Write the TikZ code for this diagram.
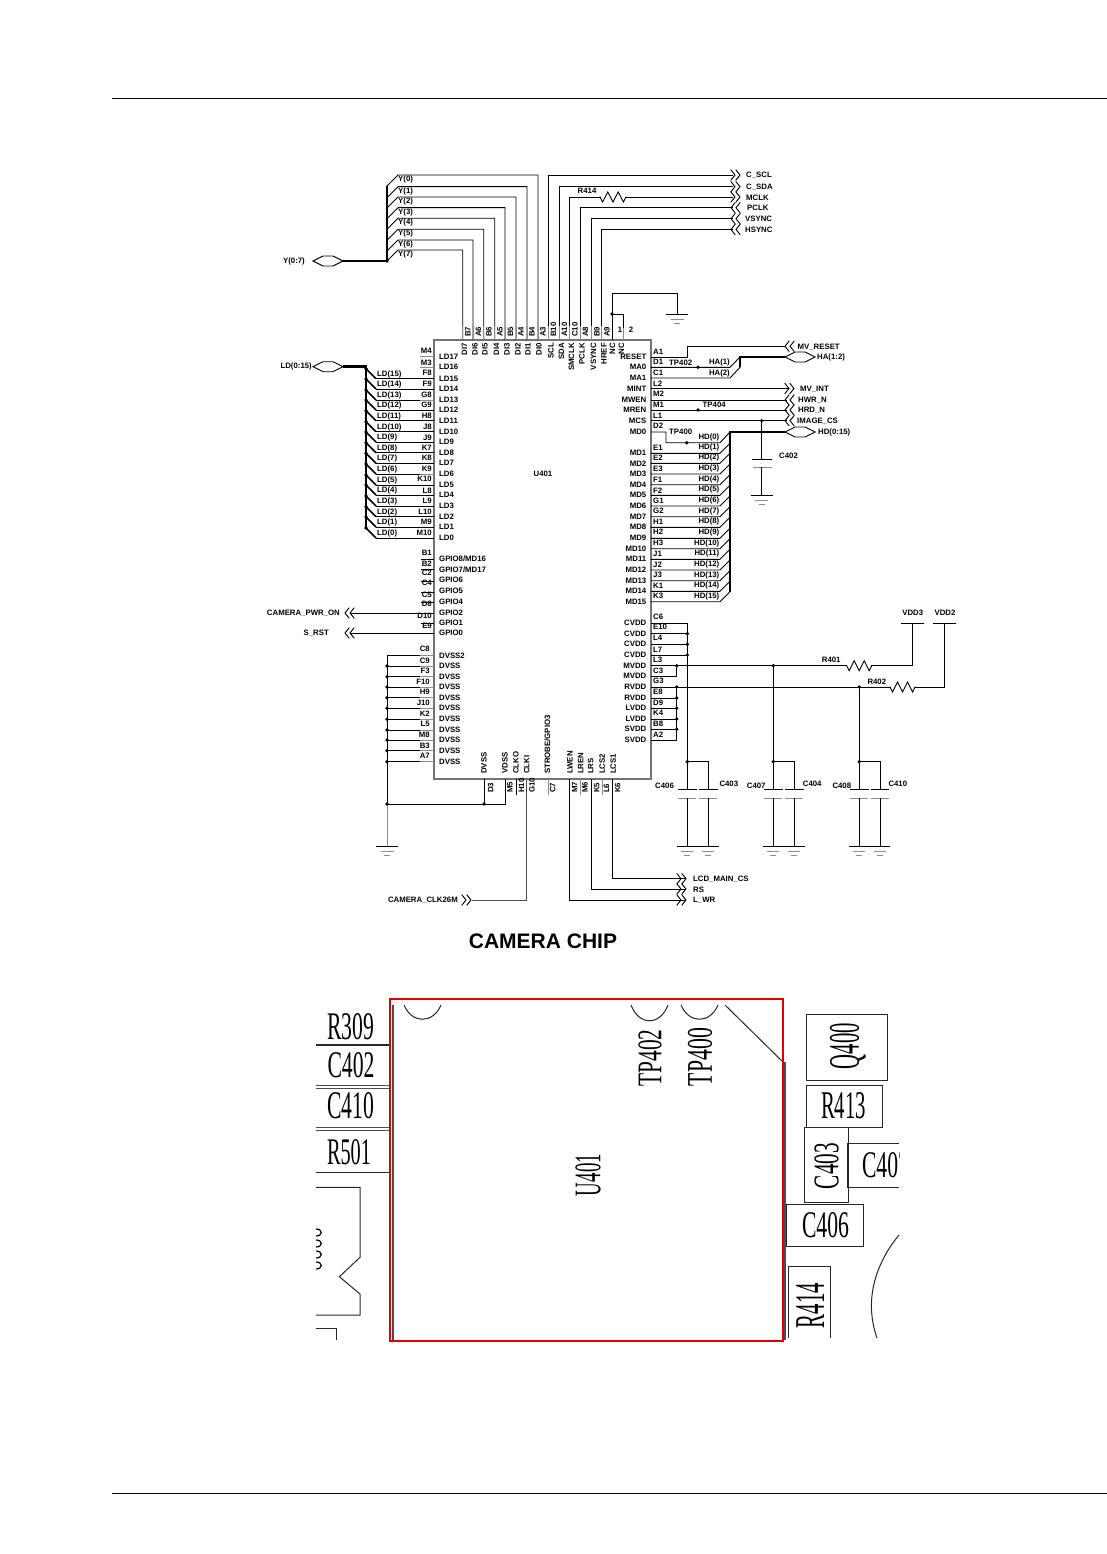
\documentclass[tikz,border=0pt]{standalone}
\usepackage{fontspec}
\usepackage{graphicx}
\setmainfont{Liberation Sans}
\newfontfamily\pcbfont{Liberation Serif}
\newcommand\sigf{\fontsize{7.8}{8.5}\selectfont\bfseries}
\newcommand\chevR[2]{\draw[wire] (#1,#2-5)--(#1+4,#2)--(#1,#2+5) (#1+5,#2-5)--(#1+9,#2)--(#1+5,#2+5);}
\newcommand\chevL[2]{\draw[wire] (#1+4,#2-5)--(#1,#2)--(#1+4,#2+5) (#1+9,#2-5)--(#1+5,#2)--(#1+9,#2+5);}
\newcommand\hexa[2]{\draw[wire] (#1,#2)--(#1+10,#2-5)--(#1+20,#2-5)--(#1+30,#2)--(#1+20,#2+5)--(#1+10,#2+5)--cycle;}
\newcommand\resi[3]{\pgfmathsetmacro\rw{(#2-#1)/10}\draw[wire] (#1,#3)--({#1+\rw},#3+5)--({#1+3*\rw},#3-5)--({#1+5*\rw},#3+5)--({#1+7*\rw},#3-5)--({#1+9*\rw},#3+5)--(#2,#3);}
\newcommand\gnd[3]{\draw[wire] (#1-#3,#2)--(#1+#3,#2);\draw[stubg] (#1-#3+4,#2+5)--(#1+#3-4,#2+5);\draw[stubg] (#1-3,#2+9)--(#1+3,#2+9);}
\newcommand\capa[5]{\draw[wire] (#1,#2)--(#1,#3) (#1-9,#3)--(#1+9,#3);\draw[stubg] (#1-9,#3+9)--(#1+9,#3+9);\draw[wire] (#1,#3+9)--(#1,#4);\gnd{#1}{#4}{#5}}
\newcommand\jdot[2]{\fill (#1,#2) circle[radius=1.9];}
\newcommand\pcbt[7]{\node[inner sep=0,rotate=#6] (#1) at (#2,#3) {\resizebox{#4pt}{#5pt}{\pcbfont #7}};}
\tikzset{
  wire/.style={line width=0.9pt,black,line cap=rect},
  stubg/.style={line width=1pt,black!45},
  bus/.style={line width=2.6pt,black},
  sig/.style={font=\sigf,inner sep=0pt,text=black},
  lab/.style={sig,anchor=west},
  rlab/.style={sig,anchor=east},
  upn/.style={sig,anchor=west,rotate=90},
  dnn/.style={sig,anchor=east,rotate=90},
  pcbline/.style={line width=1pt,black!85},
}
\begin{document}
\begin{tikzpicture}[x=1pt,y=-1pt]
\useasboundingbox (0,0) rectangle (1107,1554);
% page rules
\draw[line width=1pt] (112,99)--(1107,99);
\draw[line width=1pt] (112,1493)--(1107,1493);
% chip
\draw[line width=1.3pt,black!55] (434,340) rectangle (651,779);
\node[sig] (u401) at (543,474) {U401};
% top data pins -> Y bus
\foreach \x/\y/\k in {538/175/0,527/186.7/1,516/197/2,505/207.7/3,494.7/218.3/4,483.7/229.3/5,473/240/6,462.7/250/7}{
  \draw[wire] (\x,340)--(\x,\y)--(398,\y)--(387,\y+11);
  \draw[stubg] (\x,326)--(\x,340);
  \node[lab] (yl\k) at (398,\y+4.5) {Y(\k)};
}
\draw[bus] (387,186)--(387,261)--(343,261);
\jdot{387}{261}
\hexa{313}{261}
\node[rlab] (ybus) at (305,261) {Y(0:7)};
% top control pins
\foreach \x/\y/\n in {548/175/C\_SCL,559/186.7/C\_SDA,580/207.7/PCLK,591.7/218.7/VSYNC,601.7/229.5/HSYNC}{
  \draw[wire] (\x,340)--(\x,\y)--(733,\y);
  \draw[stubg] (\x,326)--(\x,340);
}
\draw[wire] (569.7,340)--(569.7,197)--(592,197);
\draw[stubg] (569.7,326)--(569.7,340);
\draw[wire] (633,197)--(733,197);
\draw[wire] (592,197)--(600,197);
\resi{600}{626}{197}
\draw[wire] (626,197)--(633,197);
\node[lab] (r414) at (577.5,191) {R414};
\chevR{731}{175}\chevR{731}{186.7}\chevR{731}{197}
\chevL{731}{207.7}\chevL{731}{218.7}\chevL{731}{229.5}
\node[lab] (o1) at (746,175.5) {C\_SCL};
\node[lab] (o2) at (746,187) {C\_SDA};
\node[lab] (o3) at (746,197.5) {MCLK};
\node[lab] (o4) at (747,208) {PCLK};
\node[lab] (o5) at (745,218.5) {VSYNC};
\node[lab] (o6) at (745,229.5) {HSYNC};
% NC + ground
\draw[wire] (612,340)--(612,293)--(677,293)--(677,314);
\draw[wire] (612,314)--(623,314)--(623,328);
\draw[stubg] (623,328)--(623,340);
\jdot{612}{314}
\gnd{677}{314}{10.5}
\node[sig] (n1) at (620,330) {1};
\node[sig] (n2) at (631,330) {2};
% top pin labels
\foreach \x/\t [count=\i] in {468/B7,478.5/A6,489/B6,500/A5,510.5/B5,521/A4,532/B4,543/A3,553.5/B10,564.5/A10,575/C10,585.5/A8,597/B9,607/A9}{
  \node[upn] (tp\i) at (\x,337) {\t};}
\foreach \x/\t [count=\i] in {464.5/DI7,475/DI6,485/DI5,496.5/DI4,507/DI3,518/DI2,528/DI1,539/DI0,551/SCL,561.5/SDA,571.5/SMCLK,582/PCLK,593.5/VSYNC,604/HREF,612.5/NC,621.5/NC}{
  \node[dnn] (ti\i) at (\x,343) {\t};}
% left inner names
\foreach \y/\t [count=\i] in {357.3/LD17,367.3/LD16,379/LD15,389.3/LD14,400/LD13,410/LD12,420.7/LD11,431.7/LD10,442/LD9,452.7/LD8,463.3/LD7,474/LD6,485/LD5,495/LD4,506/LD3,516.7/LD2,526.7/LD1,538.3/LD0,559/{GPIO8/MD16},570/{GPIO7/MD17},580/GPIO6,591/GPIO5,601.7/GPIO4,613.3/GPIO2,623.3/GPIO1,633.3/GPIO0,655.7/DVSS2,666/DVSS,676.7/DVSS,687/DVSS,697.7/DVSS,708.3/DVSS,719.3/DVSS,730/DVSS,740/DVSS,750.7/DVSS,761.7/DVSS}{
  \node[lab] (li\i) at (439,\y) {\t};}
\draw[stubg] (420,356.7)--(434,356.7) (420,367)--(434,367);
% LD bus
\foreach \y/\k in {378.7/15,389/14,400/13,410/12,420.7/11,431.7/10,442/9,452.7/8,463.3/7,474/6,485/5,495/4,506/3,516.7/2,527/1,538/0}{
  \draw[line width=1.5pt] (366,\y-10)--(376,\y);
  \draw[wire] (376,\y)--(434,\y);
  \jdot{366}{\y-10}
  \node[lab] (ldl\k) at (377,\y-4.5) {LD(\k)};
}
\draw[bus] (343,366.7)--(366,366.7)--(366,528);
\hexa{313}{366.7}
\node[rlab] (ldbus) at (312,366.7) {LD(0:15)};
\draw[stubg] (420,400)--(434,400) (420,474)--(434,474);
\foreach \y/\t [count=\i] in {351/M4,362.5/M3,373/F8,384/F9,395/G8,405/G9,416/H8,426.7/J8,437.7/J9,448/K7,458/K8,469/K9,479/K10,490.7/L8,501/L9,511.7/L10,522/M9,533/M10,553/B1,564/B2,573/C2,583/C4,595/C5,604/D8,615.5/D10,626/E9}{
  \node[rlab] (lp\i) at (432,\y) {\t};}
\foreach \y/\t [count=\i] in {649.3/C8,660.7/C9,670.7/F3,681.7/F10,692/H9,703/J10,714/K2,724/L5,735/M8,745.7/B3,756/A7}{
  \node[rlab] (lq\i) at (430,\y) {\t};}
% GPIO stubs
\draw[wire] (421,559)--(434,559) (421,569)--(434,569) (421,581)--(434,581) (421,592)--(434,592) (421,602)--(434,602) (421,623.3)--(434,623.3);
\draw[wire] (350,613)--(434,613) (350,633)--(434,633);
\chevL{345}{613}\chevL{345}{633}
\node[rlab] (cam) at (340,613) {CAMERA\_PWR\_ON};
\node[rlab] (srst) at (329,633) {S\_RST};
% DVSS
\foreach \y in {666,676.7,687,697.7,708.3,719.3,730,740,750.7,761.7}{
  \draw[wire] (387,\y)--(434,\y);\draw[stubg] (420,\y)--(434,\y);\jdot{387}{\y}}
\draw[wire] (434,655)--(387,655)--(387,805);
\draw[stubg] (420,655)--(434,655);
\draw[stubg] (387,805)--(387,846);
\draw[wire] (387,804)--(505,804)--(505,779);
\draw[wire] (484,804)--(484,779);
\jdot{387}{804}\jdot{484}{804}
\gnd{387}{846.5}{10.5}
% bottom names
\foreach \x/\t [count=\i] in {484/DVSS,505/VDSS,516/CLKO,526.7/CLKI,547.3/{STROBE/GPIO3},570/LWEN,580.7/LREN,590.7/LRS,602.3/LCS2,613.3/LCS1}{
  \node[upn] (bi\i) at (\x,774) {\t};}
\foreach \x/\t [count=\i] in {490.7/D3,510/M5,521.5/H10,532/G10,552.7/C7,574.7/M7,585/M6,596.7/K5,606.5/L6,617.7/K6}{
  \node[upn] (bp\i) at (\x,793) {\t};}
% bottom stubs
\draw[wire] (516.5,779)--(516.5,795);
\draw[stubg] (548,779)--(548,795) (580,779)--(580,795) (602,779)--(602,795);
\draw[wire,black!70] (526,779)--(526,900)--(472,900);
\chevR{462}{900}
\node[rlab] (clk) at (458,900.5) {CAMERA\_CLK26M};
\draw[wire] (569.3,779)--(569.3,900)--(685,900);
\draw[wire] (591,779)--(591,889)--(685,889);
\draw[wire] (612.3,779)--(612.3,878.7)--(685,878.7);
\chevR{677}{878.7}\chevR{677}{889}\chevR{677}{900}
\node[lab] (lcd) at (693,879.5) {LCD\_MAIN\_CS};
\node[lab] (rs) at (693,889.5) {RS};
\node[lab] (lwr) at (693,900.5) {L\_WR};
% right inner names
\foreach \y/\t [count=\i] in {357/RESET,367.3/MA0,378/MA1,389/MINT,400/MWEN,410.3/MREN,421/MCS,432/MD0,453.3/MD1,463.3/MD2,474/MD3,484.7/MD4,495.3/MD5,506/MD6,516.7/MD7,527.3/MD8,538.3/MD9,548.7/MD10,559.3/MD11,570/MD12,580.7/MD13,591.3/MD14,602/MD15,623.3/CVDD,633.7/CVDD,644.3/CVDD,655/CVDD,665.7/MVDD,676.3/MVDD,686.7/RVDD,698/RVDD,708.3/LVDD,719/LVDD,729.3/SVDD,740/SVDD}{
  \node[rlab] (ri\i) at (646.5,\y) {\t};}
% right pin labels
\foreach \y/\t [count=\i] in {352/A1,362/D1,372.7/C1,384/L2,394/M2,405/M1,415.7/L1,426/D2,448/E1,458/E2,469/E3,480/F1,490.7/F2,501/G1,511/G2,521.7/H1,532/H2,543/H3,554/J1,565/J2,575/J3,585.7/K1,595.7/K3,617.3/C6,626.7/E10,638.3/L4,650/L7,660/L3,670.7/C3,681/G3,691.7/E8,702.7/D9,713/K4,724/B8,734.7/A2}{
  \node[lab] (rp\i) at (653,\y) {\t};}
% right upper wires
\draw[wire] (651,357)--(687,357)--(687,346.3)--(785,346.3);
\chevL{785}{346.3}
\draw[wire] (651,367.3)--(730,367.3)--(740,357);
\draw[wire] (651,378)--(730,378)--(740,367.3);
\draw[bus] (740,367.3)--(740,357)--(785,357);
\hexa{785}{357}
\jdot{698}{367.3}
\node[lab] (tp402) at (669,362.5) {TP402};
\node[rlab] (ha1) at (730,362) {HA(1)};
\node[rlab] (ha2) at (730,373) {HA(2)};
\node[lab] (mvr) at (797.5,347) {MV\_RESET};
\node[lab] (habus) at (817,357.5) {HA(1:2)};
\draw[wire] (651,388.5)--(788,388.5);
\chevR{785}{388.5}
\node[lab] (mvi) at (800,389) {MV\_INT};
\draw[wire] (651,400)--(787,400) (651,410)--(787,410) (651,420.7)--(787,420.7);
\chevL{785}{400}\chevL{785}{410}\chevL{785}{420.7}
\jdot{698}{410}
\node[lab] (tp404) at (702.5,405) {TP404};
\node[lab] (hwr) at (798,400) {HWR\_N};
\node[lab] (hrd) at (798,410.5) {HRD\_N};
\node[lab] (ics) at (797,421) {IMAGE\_CS};
% C402
\jdot{761.7}{420.7}
\draw[wire] (761.7,420.7)--(761.7,459) (752.7,459)--(771.7,459);
\draw[stubg] (752.7,467)--(771.7,467);
\draw[wire] (761.7,467)--(761.7,495);
\gnd{761.7}{495}{10.5}
\node[lab] (c402) at (779,456) {C402};
% HD bus
\draw[wire] (651,432)--(666,432)--(666,442.7)--(720,442.7)--(730,432);
\jdot{686.7}{442.7}
\node[lab] (tp400) at (669,431.7) {TP400};
\node[rlab] (hd0) at (719.5,437.5) {HD(0)};
\foreach \y/\k in {453.3/1,463.3/2,474/3,484.7/4,495.3/5,506/6,516.7/7,527.3/8,538.3/9,548.7/10,559.3/11,570/12,580.7/13,591.3/14,601.7/15}{
  \draw[wire] (651,\y)--(720,\y)--(730,\y-10);
  \node[rlab] (hdl\k) at (719.5,\y-5.5) {HD(\k)};
}
\draw[bus] (730,592)--(730,432)--(785,432);
\hexa{785}{432}
\node[lab] (hdbus) at (818,432.5) {HD(0:15)};
% power
\draw[wire] (651,623.3)--(687.3,623.3)--(687.3,761.7)--(708.3,761.7);
\foreach \y in {633.7,644.3,655}{\draw[wire] (651,\y)--(687.3,\y);\jdot{687.3}{\y}}
\draw[wire] (651,676.3)--(676.7,676.3)--(676.7,665.7);
\draw[wire] (651,665.7)--(838.3,665.7);
\draw[wire] (651,687)--(888,687);
\draw[wire] (676.7,687)--(676.7,740);
\foreach \y in {698,708.3,719,729.3,740}{\draw[wire] (651,\y)--(676.7,\y);}
\foreach \y in {665.7,687,698,708.3,719,729.3}{\jdot{676.7}{\y}}
\resi{846.7}{871.7}{665.7}
\draw[wire] (838.3,665.7)--(846.7,665.7) (871.7,665.7)--(912.7,665.7)--(912.7,623);
\resi{890}{915}{687}
\draw[wire] (888,687)--(890,687) (915,687)--(944.3,687)--(944.3,623);
\draw[wire] (901.7,623)--(923.3,623) (933.3,623)--(955.7,623);
\node[sig] (vdd3) at (912.7,613) {VDD3};
\node[sig] (vdd2) at (945,613) {VDD2};
\node[lab] (r401) at (821.7,660) {R401};
\node[lab] (r402) at (867.3,682.3) {R402};
\draw[wire] (773.3,665.7)--(773.3,761.7)--(794.3,761.7);
\draw[wire] (859.3,687)--(859.3,761.7)--(880,761.7);
\jdot{773.3}{665.7}\jdot{859.3}{687}\jdot{687.3}{761.7}\jdot{773.3}{761.7}\jdot{859.3}{761.7}
\capa{687.3}{761.7}{789.3}{846.7}{10}
\capa{708.3}{761.7}{789.3}{846.7}{10}
\capa{773.3}{761.7}{789.3}{846.7}{10}
\capa{794.3}{761.7}{789.3}{846.7}{10}
\capa{859.3}{761.7}{789.3}{846.7}{10}
\capa{880}{761.7}{789.3}{846.7}{10}
\node[lab] (c406) at (655,786) {C406};
\node[lab] (c403) at (719.3,784) {C403};
\node[lab] (c407) at (746.7,786) {C407};
\node[lab] (c404) at (802.7,784) {C404};
\node[lab] (c408) at (832.3,786) {C408};
\node[lab] (c410) at (888.3,784) {C410};
% title
\node[font=\fontsize{21}{24}\selectfont\bfseries,inner sep=0] (title) at (543,941) {CAMERA CHIP};
% PCB picture
\draw[line width=2.5pt,red!90!black] (390,999) rectangle (783,1341);
\draw[line width=1.2pt,black!70] (393,1005)--(393,1340);
\draw[line width=1.2pt,black!70] (785,1062)--(785,1340);
\draw[pcbline] (725,1005)--(783,1062);
\draw[pcbline] (404,1005) .. controls (412,1024) and (433,1024) .. (441,1005);
\draw[pcbline] (631,1005) .. controls (639,1026) and (660,1026) .. (668,1005);
\draw[pcbline] (681,1005) .. controls (689,1024) and (710,1024) .. (718,1005);
\pcbt{tp402p}{650}{1058}{57}{23}{90}{TP402}
\pcbt{tp400p}{700}{1057}{58}{24}{90}{TP400}
\pcbt{u401p}{588}{1175}{42}{25}{90}{U401}
\pcbt{r309p}{351}{1027}{47}{26}{0}{R309}
\pcbt{c402p}{351}{1065.5}{47}{25}{0}{C402}
\pcbt{c410p}{351}{1106}{47}{26}{0}{C410}
\pcbt{r501p}{349}{1152.5}{44}{25}{0}{R501}
\draw[line width=2.5pt,black!85] (316,1045)--(389,1045);
\draw[line width=1pt,black!70] (316,1085)--(389,1085) (316,1088)--(389,1088) (316,1127)--(389,1127) (316,1130)--(389,1130);
\draw[pcbline] (316,1172.3)--(389,1172.3);
\draw[pcbline] (316,1187.3)--(360,1187.3)--(360,1257.3)--(339.4,1276.7)--(360,1294)--(360,1315)--(316,1315);
\draw[pcbline] (316,1328.3)--(336,1328.3)--(336,1340);
\foreach \y in {1229,1240,1251,1262}{\draw[line width=1.2pt] (316,\y) .. controls (323,\y) and (323,\y+7) .. (316,\y+7);}
\draw[pcbline] (806,1014) rectangle (887.8,1080.7);
\pcbt{q400p}{848}{1046}{46}{29}{90}{Q400}
\draw[pcbline] (806,1085) rectangle (882,1127.3);
\pcbt{r413p}{843.5}{1106}{45}{26}{0}{R413}
\draw[pcbline] (804.8,1127.3) rectangle (848,1202.3);
\pcbt{c403p}{826.5}{1166}{46}{24}{90}{C403}
\draw[pcbline] (899,1143)--(847.5,1143)--(847.5,1187)--(899,1187);
\begin{scope}
\clip (848,1140) rectangle (899,1190);
\pcbt{c407p}{885.5}{1165.5}{47}{25}{0}{C407}
\end{scope}
\draw[pcbline] (786,1204) rectangle (863.3,1246.7);
\pcbt{c406p}{825.5}{1225.5}{47}{25}{0}{C406}
\draw[pcbline] (788,1338)--(788,1266.7)--(830.5,1266.7)--(830.5,1338);
\pcbt{r414p}{810}{1305.5}{45}{28}{90}{R414}
\draw[pcbline] (899,1235) .. controls (880,1258) and (862,1295) .. (877,1338);
\end{tikzpicture}
\end{document}
